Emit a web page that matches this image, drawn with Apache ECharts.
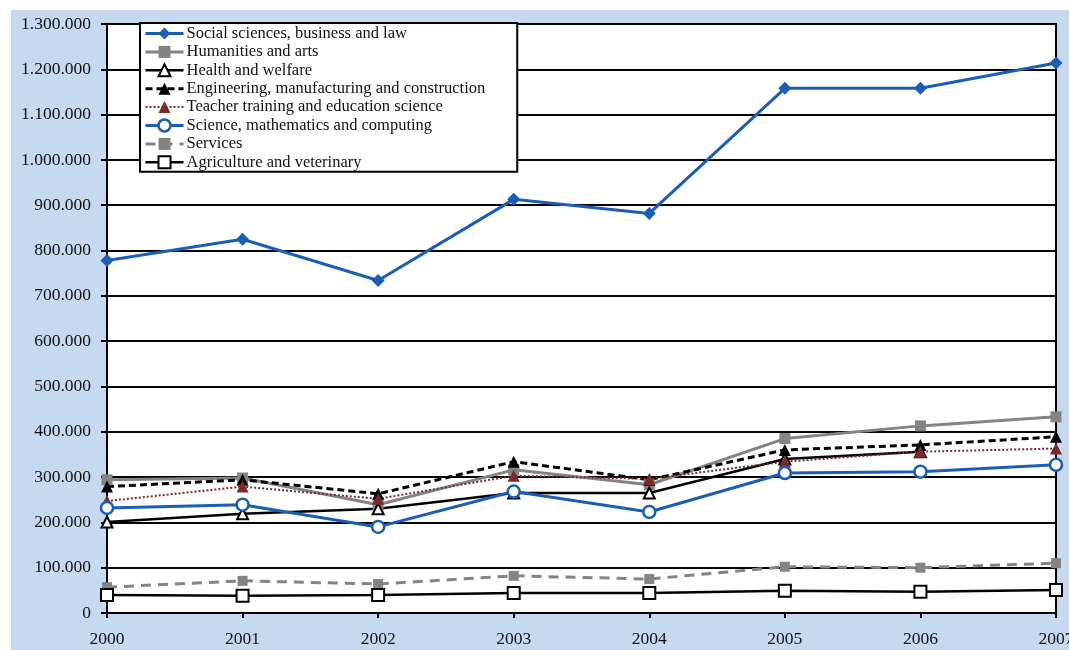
<!DOCTYPE html>
<html>
<head>
<meta charset="utf-8">
<style>
  html, body { margin: 0; padding: 0; background: #ffffff; }
  #chart { width: 1069px; height: 650px; }
</style>
<script src="https://cdn.jsdelivr.net/npm/echarts@6/dist/echarts.min.js"></script>
</head>
<body>
<div id="chart"></div>
<script>
// Graduates by field of education, 2000-2007
const years = ['2000', '2001', '2002', '2003', '2004', '2005', '2006', '2007'];

const socialSciences = [778000, 825000, 734000, 913000, 882000, 1158000, 1158000, 1214000];
const humanities     = [294000, 298000, 239000, 316000, 283000, 385000, 413000, 433000];
const health         = [201000, 219000, 230000, 265000, 265000, 340000, 356000, null];
const engineering    = [279000, 294000, 263000, 334000, 294000, 360000, 371000, 389000];
const teacher        = [247000, 279000, 252000, 303000, 296000, 334000, 356000, 363000];
const science        = [232000, 239000, 190000, 268000, 223000, 309000, 312000, 327000];
const services       = [57000, 71000, 64000, 82000, 75000, 102000, 100000, 110000];
const agriculture    = [40000, 38000, 40000, 44000, 44000, 49000, 47000, 51000];

const seriesNames = [
  'Social sciences, business and law',
  'Humanities and arts',
  'Health and welfare',
  'Engineering, manufacturing and construction',
  'Teacher training and education science',
  'Science, mathematics and computing',
  'Services',
  'Agriculture and veterinary'
];

const yMin = 0, yMax = 1300000, yStep = 100000;

const FONT = '"Liberation Serif", "DejaVu Serif", serif';
const BLUE = '#1C5DB5';
const GRAY = '#848484';
const DARKRED = '#7A2A2A';

function dotted(n) {
  return String(n).replace(/\B(?=(\d{3})+(?!\d))/g, '.');
}

function line(name, data, opts) {
  return {
    name: name,
    type: 'line',
    data: data,
    symbol: opts.symbol,
    symbolSize: opts.size,
    showAllSymbol: true,
    connectNulls: false,
    lineStyle: { color: opts.color, width: opts.width, type: opts.dash || 'solid' },
    itemStyle: {
      color: opts.fill,
      borderColor: opts.border || opts.fill,
      borderWidth: opts.borderWidth || 0
    },
    emphasis: { disabled: true },
    animation: false
  };
}

const chart = echarts.init(document.getElementById('chart'), null, { renderer: 'canvas' });

chart.setOption({
  animation: false,
  backgroundColor: '#ffffff',
  graphic: [{
    type: 'rect',
    z: -10,
    silent: true,
    shape: { x: 11, y: 10, width: 1058, height: 640 },
    style: { fill: '#C6D9F1' }
  }],
  grid: {
    left: 107, right: 13, top: 24, bottom: 37,
    outerBoundsMode: 'none',
    containLabel: false,
    show: true,
    backgroundColor: '#ffffff',
    borderColor: '#000000',
    borderWidth: 2
  },
  legend: {
    orient: 'vertical',
    left: 140, top: 23,
    data: seriesNames,
    backgroundColor: '#ffffff',
    borderColor: '#000000',
    borderWidth: 2,
    padding: [2, 32, 1, 4],
    itemWidth: 38,
    itemHeight: 15,
    itemGap: 1.4,
    lineStyle: { width: 'inherit' },
    itemStyle: { borderWidth: 'inherit' },
    textStyle: { fontFamily: FONT, fontSize: 16.5, color: '#111', padding: [0, 0, 0, -2] },
    selectedMode: false
  },
  xAxis: {
    type: 'category',
    data: years,
    boundaryGap: false,
    axisLine: { lineStyle: { color: '#000', width: 2 } },
    axisTick: { show: true, alignWithLabel: true, length: 5, lineStyle: { color: '#000', width: 2 } },
    axisLabel: { fontFamily: FONT, fontSize: 17.5, color: '#111', margin: 17 },
    splitLine: { show: false }
  },
  yAxis: {
    type: 'value',
    min: yMin, max: yMax, interval: yStep,
    axisLine: { show: true, lineStyle: { color: '#000', width: 2 } },
    axisTick: { show: true, length: 6, lineStyle: { color: '#000', width: 2 } },
    axisLabel: { fontFamily: FONT, fontSize: 17.5, color: '#111', margin: 16, formatter: dotted },
    splitLine: { show: true, lineStyle: { color: '#000', width: 2 } }
  },
  series: [
    line(seriesNames[0], socialSciences, { symbol: 'diamond', size: 13, color: BLUE, fill: BLUE, width: 3 }),
    line(seriesNames[1], humanities, { symbol: 'rect', size: 11, color: GRAY, fill: GRAY, width: 3 }),
    line(seriesNames[2], health, { symbol: 'triangle', size: 11, color: '#000', fill: '#ffffff', border: '#000', borderWidth: 2, width: 2.5 }),
    line(seriesNames[3], engineering, { symbol: 'triangle', size: 12, color: '#000', fill: '#000', width: 3, dash: [7, 4] }),
    line(seriesNames[4], teacher, { symbol: 'triangle', size: 12, color: DARKRED, fill: DARKRED, width: 2, dash: [2, 2] }),
    line(seriesNames[5], science, { symbol: 'circle', size: 12, color: BLUE, fill: '#ffffff', border: BLUE, borderWidth: 2.5, width: 3 }),
    line(seriesNames[6], services, { symbol: 'rect', size: 10, color: GRAY, fill: GRAY, width: 3, dash: [10, 7] }),
    line(seriesNames[7], agriculture, { symbol: 'rect', size: 12, color: '#000', fill: '#ffffff', border: '#000', borderWidth: 2, width: 2.5 })
  ]
});
</script>
</body>
</html>
